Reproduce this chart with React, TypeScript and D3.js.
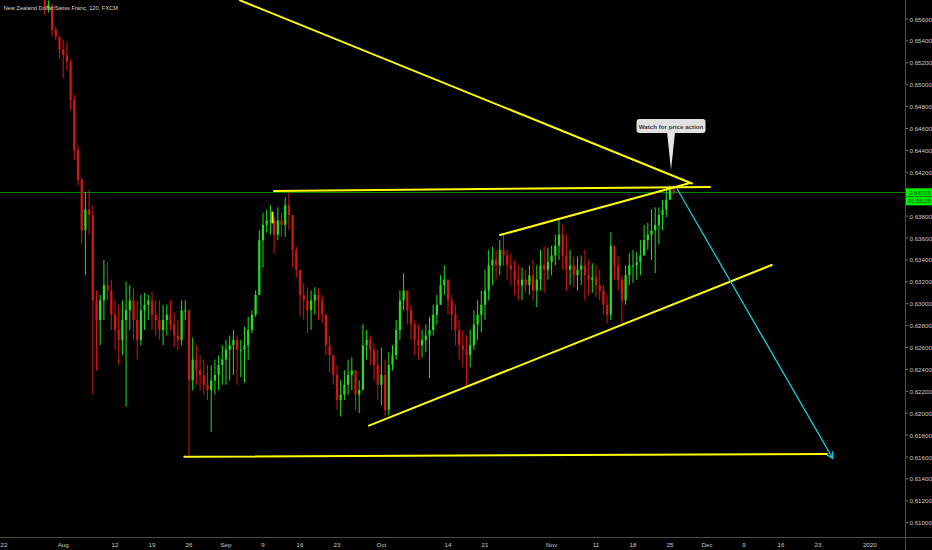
import React from "react";
import * as d3 from "d3";

const TITLE = "New Zealand Dollar/Swiss Franc, 120, FXCM";
const CALLOUT_TEXT = "Watch for price action";

// bars: one per half trading day, first bar on trading day FIRST_DAY (day 0 = Jul 22)
const FIRST_DAY = 5;
const BAR_STEP = 0.5;
const FIRST_OPEN = 0.659;

const highs = [
  0.6596, 0.6582, 0.6577, 0.6573, 0.6553, 0.6544, 0.6541, 0.6539, 0.6523, 0.6491,
  0.6445, 0.6415, 0.6402, 0.6404, 0.639, 0.6312, 0.6308, 0.634, 0.6338, 0.6322,
  0.6303, 0.6299, 0.6303, 0.632, 0.6317, 0.6314, 0.6303, 0.6308, 0.631, 0.6308,
  0.6311, 0.6303, 0.6303, 0.6299, 0.6299, 0.6303, 0.6292, 0.6285, 0.6303, 0.6303,
  0.6267, 0.6269, 0.6262, 0.6253, 0.6249, 0.6244, 0.6244, 0.6249, 0.6253, 0.6262,
  0.6267, 0.6271, 0.6276, 0.6271, 0.6267, 0.6279, 0.6288, 0.6294, 0.6312, 0.6367,
  0.6383, 0.6386, 0.639, 0.6379, 0.6388, 0.6383, 0.6397, 0.6402, 0.6376, 0.6352,
  0.6329, 0.6319, 0.6315, 0.6312, 0.6315, 0.6314, 0.6308, 0.629, 0.6271, 0.6253,
  0.6244, 0.623, 0.6239, 0.6249, 0.6251, 0.6239, 0.623, 0.6281, 0.6276, 0.6271,
  0.6264, 0.6258, 0.626, 0.6249, 0.6256, 0.6262, 0.6285, 0.6312, 0.6328, 0.6312,
  0.6299, 0.6285, 0.6281, 0.6276, 0.6281, 0.6288, 0.6299, 0.6308, 0.6326, 0.6335,
  0.6322, 0.6308, 0.6299, 0.6285, 0.6276, 0.6271, 0.6276, 0.6294, 0.6303, 0.6312,
  0.6331, 0.6349, 0.6352, 0.6349, 0.6358, 0.6363, 0.6349, 0.6346, 0.634, 0.6335,
  0.6333, 0.6331, 0.6335, 0.634, 0.6335, 0.6349, 0.6352, 0.6351, 0.6353, 0.6363,
  0.6376, 0.6372, 0.6363, 0.6349, 0.6343, 0.6343, 0.6344, 0.6349, 0.634, 0.6337,
  0.6335, 0.6331, 0.6317, 0.6308, 0.6365, 0.6352, 0.6344, 0.6326, 0.6335, 0.6346,
  0.6349, 0.6347, 0.6358, 0.6372, 0.6374, 0.6386, 0.6388, 0.6388, 0.6395, 0.6404,
  0.6408, 0.6408,
];

const lows = [
  0.6577, 0.6564, 0.6566, 0.6544, 0.6541, 0.6524, 0.6506, 0.6513, 0.6477, 0.6431,
  0.6408, 0.6354, 0.6326, 0.6363, 0.6217, 0.6239, 0.6262, 0.6285, 0.6303, 0.6276,
  0.6258, 0.6244, 0.6253, 0.6206, 0.6276, 0.6267, 0.6249, 0.6262, 0.6276, 0.6285,
  0.6276, 0.627, 0.6267, 0.6262, 0.6271, 0.6276, 0.626, 0.6258, 0.6262, 0.6285,
  0.6162, 0.6221, 0.6226, 0.6221, 0.6217, 0.6212, 0.6183, 0.6217, 0.6221, 0.6226,
  0.6226, 0.623, 0.6235, 0.6226, 0.6233, 0.6228, 0.6249, 0.6273, 0.6288, 0.631,
  0.6333, 0.6365, 0.6363, 0.6346, 0.6358, 0.6361, 0.6361, 0.6367, 0.6333, 0.6324,
  0.6288, 0.6285, 0.6273, 0.6276, 0.629, 0.6285, 0.6282, 0.6253, 0.6237, 0.6226,
  0.6203, 0.6197, 0.6212, 0.6217, 0.6221, 0.6203, 0.62, 0.6226, 0.6249, 0.6244,
  0.623, 0.6212, 0.6207, 0.6197, 0.6198, 0.6239, 0.6249, 0.6267, 0.6294, 0.6281,
  0.6267, 0.6253, 0.6249, 0.6251, 0.6256, 0.6232, 0.6271, 0.6281, 0.6299, 0.6308,
  0.629, 0.6276, 0.6262, 0.6249, 0.6242, 0.6224, 0.6242, 0.6258, 0.6267, 0.6274,
  0.6285, 0.6303, 0.6317, 0.6322, 0.6326, 0.6335, 0.6322, 0.6317, 0.6308, 0.6303,
  0.6303, 0.631, 0.6308, 0.6303, 0.6297, 0.6312, 0.631, 0.6322, 0.6326, 0.6335,
  0.634, 0.6331, 0.6312, 0.6317, 0.6315, 0.6312, 0.6317, 0.6303, 0.6308, 0.631,
  0.6306, 0.6303, 0.629, 0.6282, 0.6285, 0.6322, 0.6312, 0.6282, 0.6299, 0.6317,
  0.6319, 0.6322, 0.6326, 0.6344, 0.6349, 0.634, 0.6328, 0.6354, 0.6367, 0.6379,
  0.6395, 0.6399,
];

const closes = [
  0.6582, 0.657, 0.6573, 0.655, 0.6544, 0.6532, 0.6527, 0.6521, 0.6486, 0.644,
  0.6413, 0.6367, 0.6386, 0.6381, 0.6303, 0.6285, 0.6303, 0.6317, 0.6312, 0.629,
  0.6276, 0.6267, 0.6285, 0.6294, 0.6303, 0.6285, 0.6267, 0.6294, 0.6299, 0.6303,
  0.629, 0.6285, 0.6276, 0.6285, 0.629, 0.6281, 0.6271, 0.6267, 0.6294, 0.6294,
  0.623, 0.6249, 0.6239, 0.6235, 0.6226, 0.6221, 0.623, 0.6235, 0.6244, 0.6249,
  0.6258, 0.6262, 0.6267, 0.6258, 0.6258, 0.6262, 0.6276, 0.629, 0.6308, 0.6358,
  0.6372, 0.6376, 0.6376, 0.6363, 0.6376, 0.6372, 0.639, 0.6381, 0.6349, 0.6331,
  0.6308, 0.6303, 0.6294, 0.6303, 0.6308, 0.6303, 0.629, 0.6262, 0.6253, 0.6235,
  0.6212, 0.6217, 0.6226, 0.6235, 0.6239, 0.6217, 0.6221, 0.6262, 0.6267, 0.6258,
  0.6244, 0.6226, 0.6235, 0.6203, 0.6244, 0.6253, 0.6276, 0.6303, 0.6312, 0.6294,
  0.6281, 0.6267, 0.6262, 0.6267, 0.6271, 0.6276, 0.629, 0.6299, 0.6317, 0.6322,
  0.6303, 0.629, 0.6276, 0.6262, 0.6258, 0.6253, 0.6262, 0.6281, 0.629, 0.6299,
  0.6312, 0.6335, 0.634, 0.6335, 0.6349, 0.6344, 0.6335, 0.6331, 0.6322, 0.6317,
  0.6322, 0.6317, 0.6326, 0.6312, 0.6322, 0.6335, 0.6331, 0.6338, 0.6344, 0.6353,
  0.6363, 0.6344, 0.6331, 0.6335, 0.6326, 0.6331, 0.6335, 0.6326, 0.6322, 0.6324,
  0.6317, 0.6312, 0.6299, 0.629, 0.6353, 0.6335, 0.6322, 0.6303, 0.6326, 0.6335,
  0.6335, 0.6338, 0.6344, 0.6358, 0.6363, 0.6367, 0.6372, 0.6381, 0.6386, 0.6395,
  0.6404, 0.64015,
];

const priceTicks = [
  0.61, 0.612, 0.614, 0.616, 0.618, 0.62, 0.622, 0.624, 0.626, 0.628, 0.63, 0.632,
  0.634, 0.636, 0.638, 0.642, 0.644, 0.646, 0.648, 0.65, 0.652, 0.654, 0.656,
];

const timeTickDays = [0, 8, 15, 20, 25, 30, 35, 40, 45, 51, 60, 65, 74, 80, 85, 90, 95, 100, 105, 110, 117];
const timeTickLabels = ["22", "Aug", "12", "19", "26", "Sep", "9", "16", "23", "Oct", "14", "21", "Nov", "11", "18", "25", "Dec", "9", "16", "23", "2020"];

const LAST_PRICE = 0.64015;
const COUNTDOWN = "01:56:28";

// trend lines in (trading day, price)
const yellowLines = [
  { d1: 31.9, p1: 0.6577, d2: 92.97, p2: 0.64098 },
  { d1: 36.49, p1: 0.64029, d2: 95.41, p2: 0.64066 },
  { d1: 67.03, p1: 0.63627, d2: 92.7, p2: 0.64102 },
  { d1: 49.32, p1: 0.61886, d2: 103.74, p2: 0.63353 },
  { d1: 24.36, p1: 0.61603, d2: 111.22, p2: 0.61627 },
];
const arrowLine = { d1: 90.91, p1: 0.64054, d2: 111.99, p2: 0.61588 };
const calloutAnchor = { d: 90.14, p: 0.64221 };
const highlightBar = { d: 36.28, pTop: 0.63841, pBottom: 0.63734 };

const W = 932;
const H = 550;
const AXIS_X = 905;
const AXIS_Y = 537;
const FONT = "'Liberation Sans', 'DejaVu Sans', sans-serif";

export default function App() {
  const x = d3.scaleLinear().domain([0, 117]).range([4, 869.8]);
  const y = d3.scaleLinear().domain([0.61, 0.656]).range([522.7, 19]);

  const bars = closes.map((c, i) => {
    const o = i === 0 ? FIRST_OPEN : closes[i - 1];
    return { d: FIRST_DAY + i * BAR_STEP, o, h: highs[i], l: lows[i], c };
  });

  const up = "#20e020";
  const down = "#d81414";
  const bodyW = 2.2;

  const ax = x(arrowLine.d2);
  const ay = y(arrowLine.p2);
  const sx = x(arrowLine.d1);
  const sy = y(arrowLine.p1);
  const ang = Math.atan2(ay - sy, ax - sx);
  const ah = 7;
  const a1 = [ax - ah * Math.cos(ang - 0.5), ay - ah * Math.sin(ang - 0.5)];
  const a2 = [ax - ah * Math.cos(ang + 0.5), ay - ah * Math.sin(ang + 0.5)];

  const cx = x(calloutAnchor.d);
  const cy = y(calloutAnchor.p);
  const boxW = 69;
  const boxH = 14;
  const boxTop = cy - 51;

  const lp = y(LAST_PRICE);

  return (
    <div style={{ position: "fixed", left: 0, top: 0, width: W, height: H }}>
      <svg width={W} height={H} style={{ display: "block", background: "#000" }}>
        <defs>
          <clipPath id="plot">
            <rect x={0} y={0} width={AXIS_X} height={AXIS_Y} />
          </clipPath>
        </defs>
        <rect x={0} y={0} width={W} height={H} fill="#000" />

        <g clipPath="url(#plot)">
          {/* last price line */}
          <line x1={0} x2={AXIS_X} y1={lp} y2={lp} stroke="#0a8a0a" strokeWidth={1} />

          {/* candles */}
          {bars.map((b, i) => {
            const isUp = b.c >= b.o;
            const col = isUp ? up : down;
            const top = y(Math.max(b.o, b.c));
            const bot = y(Math.min(b.o, b.c));
            return (
              <g key={i}>
                <line x1={x(b.d)} x2={x(b.d)} y1={y(b.h)} y2={y(b.l)} stroke={col} strokeWidth={1} />
                <rect x={x(b.d) - bodyW / 2} y={top} width={bodyW} height={Math.max(1, bot - top)} fill={col} />
              </g>
            );
          })}

          <rect
            x={x(highlightBar.d) - 1}
            y={y(highlightBar.pTop)}
            width={2}
            height={y(highlightBar.pBottom) - y(highlightBar.pTop)}
            fill="#ffff00"
          />

          {/* yellow drawings */}
          {yellowLines.map((l, i) => (
            <line
              key={i}
              x1={x(l.d1)}
              y1={y(l.p1)}
              x2={x(l.d2)}
              y2={y(l.p2)}
              stroke="#ffff00"
              strokeWidth={2}
              strokeLinecap="round"
            />
          ))}

          {/* cyan arrow */}
          <line x1={sx} y1={sy} x2={ax} y2={ay} stroke="#19c8d8" strokeWidth={1.3} />
          <polyline
            points={`${a1[0]},${a1[1]} ${ax},${ay} ${a2[0]},${a2[1]}`}
            fill="none"
            stroke="#19c8d8"
            strokeWidth={1.3}
          />

          {/* callout */}
          <path
            d={`M${cx - 4},${boxTop + boxH - 1} L${cx},${cy} L${cx + 4},${boxTop + boxH - 1} Z`}
            fill="#e6e6e6"
          />
          <rect x={cx - boxW / 2} y={boxTop} width={boxW} height={boxH} rx={3} ry={3} fill="#e1e1e1" />
          <text
            x={cx}
            y={boxTop + boxH / 2}
            textAnchor="middle"
            dominantBaseline="central"
            fontFamily={FONT}
            fontSize={6.2}
            fontWeight="bold"
            fill="#3a3a3a"
          >
            {CALLOUT_TEXT}
          </text>
        </g>

        {/* title */}
        <text x={3.5} y={7.5} dominantBaseline="central" fontFamily={FONT} fontSize={5.7} fill="#d6d6d6">
          {TITLE}
        </text>

        {/* price axis */}
        <line x1={AXIS_X + 0.5} x2={AXIS_X + 0.5} y1={0} y2={H} stroke="#4a4a4a" strokeWidth={1} />
        {priceTicks.map((p) => (
          <g key={p}>
            <line x1={AXIS_X + 1} x2={AXIS_X + 3} y1={y(p)} y2={y(p)} stroke="#777" strokeWidth={1} />
            <text
              x={AXIS_X + 4.5}
              y={y(p)}
              dominantBaseline="central"
              fontFamily={FONT}
              fontSize={6.2}
              fill="#c8c8c8"
            >
              {p.toFixed(5)}
            </text>
          </g>
        ))}
        <rect x={AXIS_X + 1} y={lp - 4.3} width={W - AXIS_X - 1} height={8.3} fill="#00ee00" />
        <text x={AXIS_X + 4} y={lp} dominantBaseline="central" fontFamily={FONT} fontSize={6} fill="#0a3a0a">
          {LAST_PRICE.toFixed(5)}
        </text>
        <rect x={AXIS_X + 1} y={lp + 4.5} width={W - AXIS_X - 1} height={8.3} fill="#00ee00" />
        <text x={AXIS_X + 3.5} y={lp + 8.7} dominantBaseline="central" fontFamily={FONT} fontSize={5.6} fill="#0a3a0a">
          {COUNTDOWN}
        </text>

        {/* time axis */}
        <line x1={0} x2={W} y1={AXIS_Y + 0.5} y2={AXIS_Y + 0.5} stroke="#4a4a4a" strokeWidth={1} />
        {timeTickDays.map((d, i) => (
          <text
            key={i}
            x={x(d)}
            y={544.5}
            textAnchor="middle"
            dominantBaseline="central"
            fontFamily={FONT}
            fontSize={6.2}
            fill="#c8c8c8"
          >
            {timeTickLabels[i]}
          </text>
        ))}
      </svg>
    </div>
  );
}
